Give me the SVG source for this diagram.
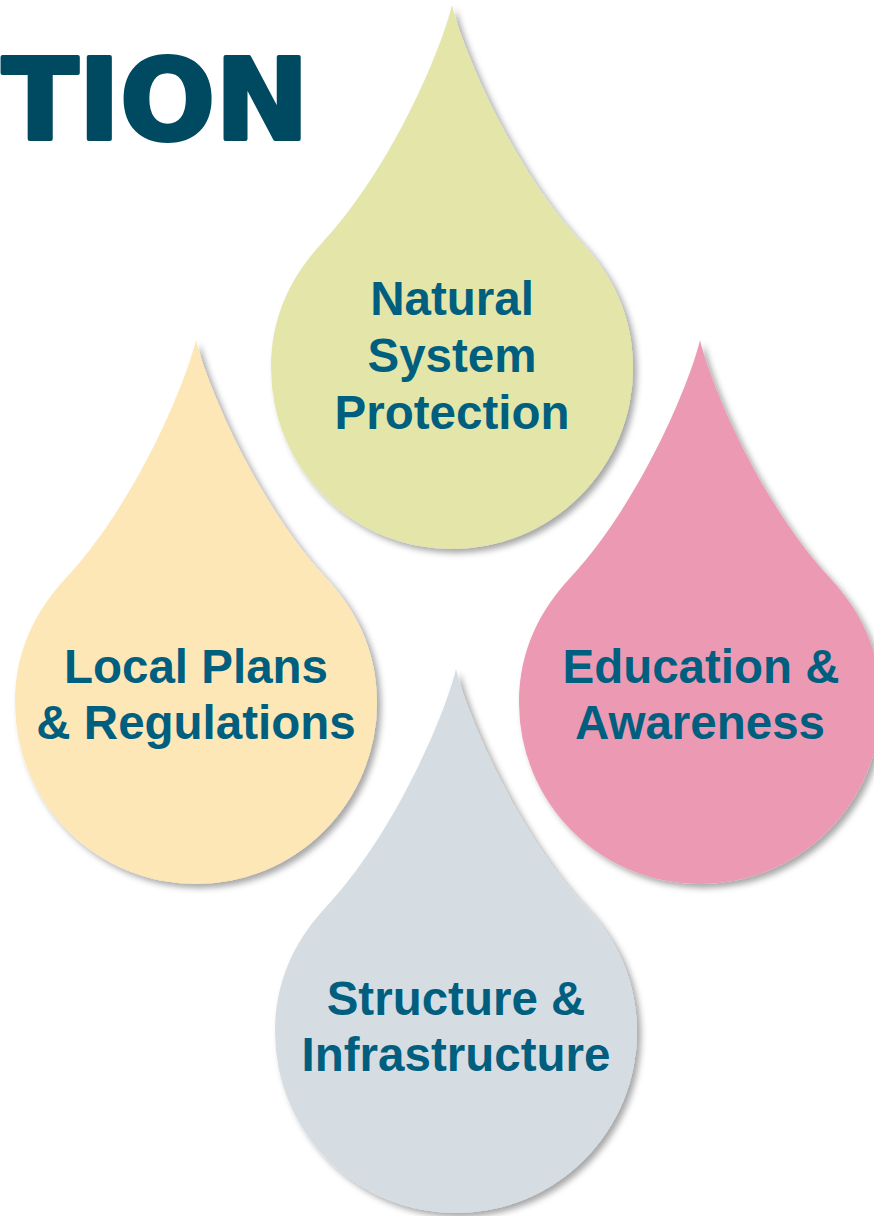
<svg xmlns="http://www.w3.org/2000/svg" width="874" height="1216" viewBox="0 0 874 1216">
  <style>
    .title { font-family: "DejaVu Sans", "Liberation Sans", sans-serif; font-weight: bold; font-size: 112px; fill: #004a61; stroke: #004a61; stroke-width: 4; stroke-linejoin: round; }
    .label { font-family: "Liberation Sans", Arial, sans-serif; font-weight: bold; font-size: 47.5px; fill: #005f7f; text-anchor: middle; }
    .drop { filter: url(#shadow); }
  </style>
  <defs>
    <!-- teardrop shape centred on its round body (radius 181), tip pointing up -->
    <path id="drop" d="M 0,-363 C -10,-320 -60,-200 -130,-125 C -158,-95 -181,-55 -181,0 A 181 181 0 0 0 181,0 C 181,-55 158,-95 130,-125 C 60,-200 10,-320 0,-363 Z"/>
    <filter id="shadow" x="-20%" y="-20%" width="140%" height="140%">
      <feDropShadow dx="4" dy="4" stdDeviation="3" flood-color="#000000" flood-opacity="0.35"/>
    </filter>
  </defs>

  <rect width="874" height="1216" fill="#ffffff"/>

  <g id="title">
    <text class="title" x="309" y="139" text-anchor="end">TION</text>
  </g>

  <g id="natural-system-protection">
    <use href="#drop" class="drop" transform="translate(452,368)" fill="#e4e6a9"/>
    <text class="label" x="452" y="315">Natural</text>
    <text class="label" x="452" y="372">System</text>
    <text class="label" x="452" y="429">Protection</text>
  </g>

  <g id="local-plans-regulations">
    <use href="#drop" class="drop" transform="translate(196,703)" fill="#fde7b6"/>
    <text class="label" x="196" y="683">Local Plans</text>
    <text class="label" x="196" y="739">&amp; Regulations</text>
  </g>

  <g id="education-awareness">
    <use href="#drop" class="drop" transform="translate(700,703)" fill="#ec9ab4"/>
    <text class="label" x="701" y="683">Education &amp;</text>
    <text class="label" x="700" y="739">Awareness</text>
  </g>

  <g id="structure-infrastructure">
    <use href="#drop" class="drop" transform="translate(456,1032)" fill="#d5dde3"/>
    <text class="label" x="456" y="1015">Structure &amp;</text>
    <text class="label" x="456" y="1071">Infrastructure</text>
  </g>

  <g id="connectors"></g>
</svg>
